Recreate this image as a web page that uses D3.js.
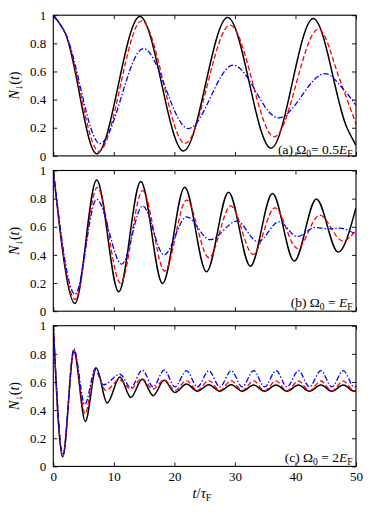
<!DOCTYPE html>
<html><head><meta charset="utf-8">
<script src="https://cdn.jsdelivr.net/npm/d3@7"></script>
<style>html,body{margin:0;padding:0;background:#fff;}svg{display:block;}</style>
</head><body><svg id="c" width="374" height="514"></svg>
<script>
// ---------- data ----------
const xTicks = [0, 10, 20, 30, 40, 50];
const yTicks = [0, 0.2, 0.4, 0.6, 0.8, 1];
const panelLabels = ["(a)", "(b)", "(c)"];
const omegaValues = ["= 0.5", " = ", " = 2"];

// panel (a)  Omega0 = 0.5 EF
const tA_k = [0, 2, 7.17, 14.3, 21.5, 28.8, 35.96, 42.95, 48.5, 50];
const nA_k = [1, 0.87, 0.015, 0.99, 0.035, 0.983, 0.055, 0.977, 0.2, 0.075];
const tA_r = [0, 2, 7.54, 14.6, 21.75, 29.2, 36.5, 43.8, 47.5, 50];
const nA_r = [1, 0.87, 0.032, 0.96, 0.088, 0.93, 0.135, 0.90, 0.52, 0.225];
const tA_b = [0, 2, 7.7, 14.87, 22.3, 29.7, 37.2, 44.9, 48, 50];
const nA_b = [1, 0.87, 0.088, 0.763, 0.194, 0.645, 0.27, 0.585, 0.47, 0.36];

// panel (b)  Omega0 = EF
const tB_k = [0, 3.58, 7.16, 10.8, 14.45, 18.05, 21.7, 25.3, 28.95, 32.55, 36.2, 39.8, 43.45, 47.05, 50];
const nB_k = [1, 0.055, 0.933, 0.138, 0.921, 0.197, 0.881, 0.28, 0.846, 0.32, 0.836, 0.356, 0.798, 0.42, 0.736];
const tB_r = [0, 3.6, 7.27, 11.1, 14.76, 18.4, 22.0, 25.7, 29.3, 33.0, 36.6, 40.3, 44.0, 47.8, 50];
const nB_r = [1, 0.083, 0.88, 0.2, 0.857, 0.285, 0.79, 0.38, 0.748, 0.404, 0.735, 0.447, 0.683, 0.50, 0.575];
const tB_b = [0, 3.6, 7.16, 11.3, 14.76, 18.3, 22.0, 25.9, 30.3, 33.8, 37.3, 40.3, 43.2, 45.6, 47.3, 50];
const nB_b = [1, 0.12, 0.795, 0.335, 0.748, 0.40, 0.67, 0.508, 0.64, 0.494, 0.636, 0.53, 0.595, 0.585, 0.59, 0.545];

// panel (c)  Omega0 = 2EF
const tC_k = [0, 1.54, 3.41, 5.29, 7.1, 8.9, 11.0, 12.8, 14.7, 16.5, 18.3, 20.1, 22.0, 23.8, 25.7, 27.5, 29.4, 31.2, 33.1, 34.9, 36.8, 38.6, 40.5, 42.3, 44.2, 46.0, 47.9, 49.7, 50];
const nC_k = [1, 0.067, 0.815, 0.32, 0.70, 0.45, 0.635, 0.49, 0.62, 0.503, 0.612, 0.525, 0.585, 0.535, 0.58, 0.535, 0.58, 0.535, 0.578, 0.535, 0.578, 0.535, 0.578, 0.535, 0.578, 0.535, 0.578, 0.535, 0.536];
const tC_r = [0, 1.6, 3.4, 5.25, 6.9, 8.7, 10.9, 12.8, 14.6, 16.5, 18.3, 20.1, 22.0, 23.8, 25.7, 27.5, 29.4, 31.2, 33.1, 34.9, 36.8, 38.6, 40.5, 42.3, 44.2, 46.0, 47.9, 49.7, 50];
const nC_r = [1, 0.075, 0.825, 0.375, 0.68, 0.54, 0.615, 0.55, 0.625, 0.55, 0.615, 0.54, 0.61, 0.54, 0.61, 0.54, 0.61, 0.54, 0.608, 0.538, 0.608, 0.538, 0.607, 0.537, 0.607, 0.537, 0.606, 0.537, 0.54];
const tC_b = [0, 1.6, 3.4, 5.2, 7.0, 8.3, 11.0, 12.8, 14.7, 16.5, 18.3, 20.1, 22.0, 23.8, 25.7, 27.5, 29.4, 31.2, 33.1, 34.9, 36.8, 38.6, 40.5, 42.3, 44.2, 46.0, 47.9, 49.7, 50];
const nC_b = [1, 0.083, 0.835, 0.44, 0.70, 0.58, 0.655, 0.56, 0.685, 0.565, 0.685, 0.565, 0.68, 0.565, 0.68, 0.565, 0.68, 0.565, 0.68, 0.565, 0.68, 0.565, 0.68, 0.565, 0.68, 0.565, 0.68, 0.565, 0.568];

// ---------- layout ----------
const left = 53.3, right = 356;
const panelTops = [15.2, 170.5, 325.7];
const panelH = 140.7;
const FONT = "'Liberation Serif','DejaVu Serif',serif";

const svg = d3.select("#c");
const x = d3.scaleLinear().domain([0, 50]).range([left, right]);

const seriesStyle = [
  {color: "#000000", width: 1.5, dash: null},
  {color: "#ff0000", width: 1.3, dash: "5,2.6"},
  {color: "#0000ff", width: 1.3, dash: "5.5,2,1.4,2"}
];

const panels = [
  {series: [[tA_k, nA_k], [tA_r, nA_r], [tA_b, nA_b]], labelBase: 154},
  {series: [[tB_k, nB_k], [tB_r, nB_r], [tB_b, nB_b]], labelBase: 307},
  {series: [[tC_k, nC_k], [tC_r, nC_r], [tC_b, nC_b]], labelBase: 462}
];

const fmtY = d => d === 0 ? "0" : d === 1 ? "1" : d.toFixed(1);

panels.forEach((p, i) => {
  const top = panelTops[i], bottom = top + panelH;
  const y = d3.scaleLinear().domain([0, 1]).range([bottom, top]);
  const g = svg.append("g");

  const clipId = "clip" + i;
  svg.append("clipPath").attr("id", clipId).append("rect")
    .attr("x", left).attr("y", top).attr("width", right - left).attr("height", panelH);

  const line = d3.line().x(d => x(d[0])).y(d => y(d[1])).curve(d3.curveMonotoneX);
  const cg = g.append("g").attr("clip-path", `url(#${clipId})`);
  p.series.forEach((s, k) => {
    const pts = s[0].map((t, j) => [t, s[1][j]]);
    const st = seriesStyle[k];
    cg.append("path").attr("d", line(pts)).attr("fill", "none")
      .attr("stroke", st.color).attr("stroke-width", st.width)
      .attr("stroke-dasharray", st.dash).attr("stroke-linejoin", "round");
  });

  // axes (inward ticks on all sides)
  const axB = d3.axisBottom(x).tickValues(xTicks).tickSizeInner(-4).tickSizeOuter(0).tickPadding(5)
    .tickFormat(i === 2 ? d3.format("d") : () => "");
  const axT = d3.axisTop(x).tickValues(xTicks).tickSizeInner(-4).tickSizeOuter(0).tickFormat(() => "");
  const axL = d3.axisLeft(y).tickValues(yTicks).tickSizeInner(-4).tickSizeOuter(0).tickPadding(7).tickFormat(fmtY);
  const axR = d3.axisRight(y).tickValues(yTicks).tickSizeInner(-4).tickSizeOuter(0).tickFormat(() => "");
  [[axB, `translate(0,${bottom})`], [axT, `translate(0,${top})`],
   [axL, `translate(${left},0)`], [axR, `translate(${right},0)`]].forEach(([ax, tr]) => {
    const a = g.append("g").attr("transform", tr).call(ax);
    a.select(".domain").remove();
    a.selectAll("line").attr("stroke", "#000").attr("stroke-width", 0.9);
    a.selectAll("text").attr("font-family", FONT).attr("font-size", 13).attr("fill", "#000");
  });

  g.append("rect").attr("x", left).attr("y", top).attr("width", right - left).attr("height", panelH)
    .attr("fill", "none").attr("stroke", "#000").attr("stroke-width", 1.1);

  // y label N_down(t)
  const yl = g.append("text").attr("font-family", FONT).attr("font-size", 14)
    .attr("text-anchor", "middle")
    .attr("transform", `translate(19,${(top + bottom) / 2}) rotate(-90)`);
  yl.append("tspan").attr("font-style", "italic").text("N");
  yl.append("tspan").attr("font-size", 11).attr("dy", 3).text("↓");
  yl.append("tspan").attr("dy", -3).text("(");
  yl.append("tspan").attr("font-style", "italic").text("t");
  yl.append("tspan").text(")");

  // panel annotation
  const an = g.append("text").attr("font-family", FONT).attr("font-size", 13.5)
    .attr("text-anchor", "end").attr("x", 352.5).attr("y", p.labelBase);
  an.append("tspan").text(panelLabels[i] + " Ω");
  an.append("tspan").attr("font-size", 9.5).attr("dy", 2.5).text("0");
  an.append("tspan").attr("dy", -2.5).text(omegaValues[i]);
  an.append("tspan").attr("font-style", "italic").text("E");
  an.append("tspan").attr("font-size", 9.5).attr("dy", 2.5).text("F");
});

// x label t/tau_F
const xl = svg.append("text").attr("font-family", FONT).attr("font-size", 14.5)
  .attr("text-anchor", "middle").attr("x", 202).attr("y", 498);
xl.append("tspan").attr("font-style", "italic").text("t");
xl.append("tspan").text("/");
xl.append("tspan").attr("font-style", "italic").text("τ");
xl.append("tspan").attr("font-size", 10).attr("dy", 3).text("F");
</script></body></html>
